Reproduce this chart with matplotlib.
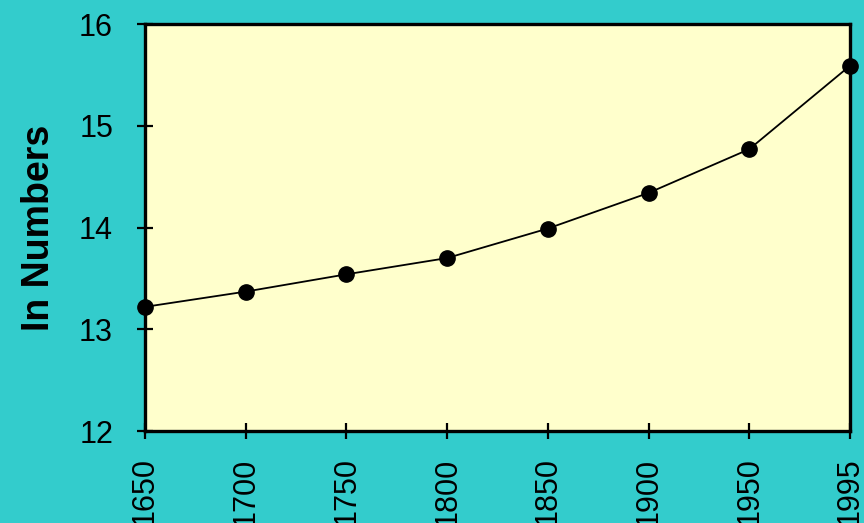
import matplotlib

matplotlib.use("Agg")
import matplotlib.pyplot as plt
import numpy as np

# series
years = ["1650", "1700", "1750", "1800", "1850", "1900", "1950", "1995"]
values = [13.22, 13.37, 13.54, 13.70, 13.99, 14.34, 14.77, 15.59]
yticks = [12, 13, 14, 15, 16]

BG = "#33CCCC"
PLOT_BG = "#FFFFCC"

plt.rcParams["font.family"] = ["Liberation Sans", "DejaVu Sans"]

fig = plt.figure(figsize=(8.64, 5.23), dpi=100, facecolor=BG)
ax = fig.add_axes([0.1678, 0.1759, 0.8160, 0.7782])
ax.set_facecolor(PLOT_BG)

x = np.arange(len(years))
ax.plot(x, values, color="black", linewidth=1.3, marker="o", markersize=11,
        markerfacecolor="black", markeredgecolor="black", clip_on=False, zorder=5)

ax.set_xlim(0, len(years) - 1)
ax.set_ylim(12, 16)
ax.set_xticks(x)
ax.set_xticklabels(years, rotation=90, fontsize=22)
ax.set_yticks(yticks)
ax.set_yticklabels([str(v) for v in yticks], fontsize=22)

ax.tick_params(axis="x", direction="inout", length=12, width=1.6, pad=13)
ax.tick_params(axis="y", direction="inout", length=12, width=1.6, pad=17)

for s in ax.spines.values():
    s.set_linewidth(2.4)
    s.set_color("black")

ax.set_ylabel("In Numbers", fontsize=27, fontweight="bold", labelpad=16)

fig.savefig("out.png", dpi=100, facecolor=BG)
